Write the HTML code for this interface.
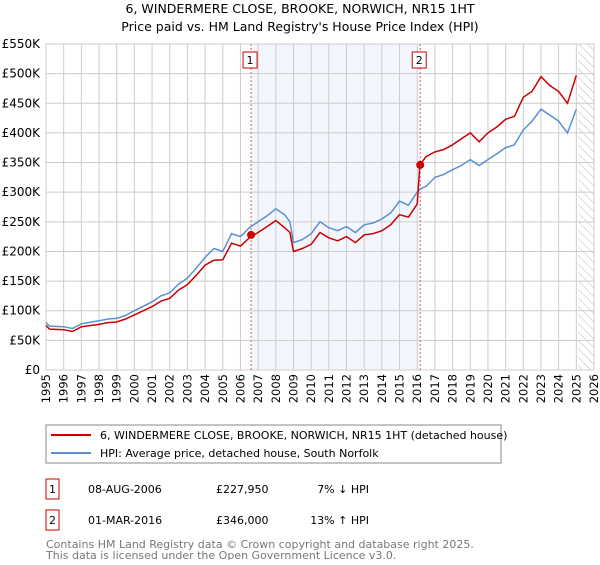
<!DOCTYPE html>
<html><head><meta charset="utf-8"><style>
body{margin:0;background:#fff;font-family:"Liberation Sans","DejaVu Sans",sans-serif}
svg text{font-family:"DejaVu Sans","Liberation Sans",sans-serif}
</style></head><body>
<svg id="c" width="600" height="560" xmlns="http://www.w3.org/2000/svg">
<defs><pattern id="hatch" width="6" height="6" patternUnits="userSpaceOnUse" patternTransform="rotate(-45)"><line x1="0" y1="0" x2="0" y2="6" stroke="#bbb" stroke-width="1"/></pattern></defs>
<text x="300" y="13" text-anchor="middle" font-size="12.5">6, WINDERMERE CLOSE, BROOKE, NORWICH, NR15 1HT</text>
<text x="300" y="31" text-anchor="middle" font-size="12.5">Price paid vs. HM Land Registry's House Price Index (HPI)</text>
<g id="grid"></g><g id="marks"></g><g id="axes"></g>
<rect x="46" y="425" width="455" height="38" fill="none" stroke="#888"/>
<line x1="51" y1="435" x2="91" y2="435" stroke="#cc0000" stroke-width="2"/>
<text x="100" y="439" font-size="11">6, WINDERMERE CLOSE, BROOKE, NORWICH, NR15 1HT (detached house)</text>
<line x1="51" y1="453" x2="91" y2="453" stroke="#5b8fd0" stroke-width="2"/>
<text x="100" y="457" font-size="11">HPI: Average price, detached house, South Norfolk</text>
<g font-size="11">
<rect x="46" y="479" width="13" height="20" fill="none" stroke="#cc0000"/>
<text x="52.5" y="493" text-anchor="middle">1</text>
<text x="88" y="493">08-AUG-2006</text><text x="216" y="493">£227,950</text><text x="369" y="493" text-anchor="end">7% ↓ HPI</text>
<rect x="46" y="510" width="13" height="20" fill="none" stroke="#cc0000"/>
<text x="52.5" y="524" text-anchor="middle">2</text>
<text x="88" y="524">01-MAR-2016</text><text x="216" y="524">£346,000</text><text x="369" y="524" text-anchor="end">13% ↑ HPI</text>
</g>
<text x="46" y="548" font-size="11" fill="#777">Contains HM Land Registry data © Crown copyright and database right 2025.</text>
<text x="46" y="559" font-size="11" fill="#777">This data is licensed under the Open Government Licence v3.0.</text>
</svg>
<script>
const years=[1995,1995.2,1996,1996.5,1997,1998,1998.5,1999,1999.5,2000,2001,2001.5,2002,2002.5,2003,2003.5,2004,2004.5,2005,2005.5,2006,2006.5,2007,2007.5,2008,2008.5,2008.8,2009,2009.5,2010,2010.5,2011,2011.5,2012,2012.5,2013,2013.5,2014,2014.5,2015,2015.5,2016,2016.15,2016.5,2017,2017.5,2018,2018.5,2019,2019.5,2020,2020.5,2021,2021.5,2022,2022.5,2023,2023.5,2024,2024.5,2025];
const hpi=[80,74,73,70,78,83,86,87,92,100,115,125,130,145,155,172,190,205,200,230,225,240,250,260,272,262,250,215,220,230,250,240,235,242,232,245,248,255,265,285,278,300,305,310,325,330,338,345,355,345,355,365,375,380,405,420,440,430,420,400,440];
const prop=[75,69,68,65,73,77,80,81,86,93,107,116,121,135,144,160,177,185,186,214,209,223,232,242,252,240,232,200,205,212,232,223,218,225,215,228,230,235,245,262,258,280,346,360,368,372,380,390,400,385,400,410,423,428,460,470,495,480,470,450,497];
const sales=[[2006.6,227.95,"1"],[2016.17,346,"2"]];
const yTicks=[0,50,100,150,200,250,300,350,400,450,500,550];
const xTicks=[1995,1996,1997,1998,1999,2000,2001,2002,2003,2004,2005,2006,2007,2008,2009,2010,2011,2012,2013,2014,2015,2016,2017,2018,2019,2020,2021,2022,2023,2024,2025,2026];
const L=46,R=594,T=44,B=370,NS="http://www.w3.org/2000/svg";
const X=v=>L+(v-1995)/31*(R-L), Y=v=>B-v/550*(B-T);
function mk(p,t,a){const e=document.createElementNS(NS,t);for(const k in a)e.setAttribute(k,a[k]);document.getElementById(p).appendChild(e);return e;}
let e=mk('grid','rect',{x:X(sales[0][0]),y:T,width:X(sales[1][0])-X(sales[0][0]),height:B-T,fill:'#eef3fc',opacity:0.7});


e=mk('grid','rect',{x:X(2025.1),y:T,width:R-X(2025.1),height:B-T,fill:'url(#hatch)'});


for(const t of xTicks){e=mk('grid','line',{x1:X(t),x2:X(t),y1:T,y2:B,stroke:'#ccc'});


e=mk('axes','text',{x:0,y:0,'font-size':11.5,'text-anchor':'end',transform:`translate(${X(t)+4},${B+4}) rotate(-90)`});e.textContent=t;

}
for(const t of yTicks){e=mk('grid','line',{x1:L,x2:R,y1:Y(t),y2:Y(t),stroke:'#ccc'});


e=mk('axes','text',{x:40,y:Y(t)+4,'font-size':12,'text-anchor':'end'});e.textContent=t===0?'£0':'£'+t+'K';

}
for(const s of sales){e=mk('marks','line',{x1:X(s[0]),x2:X(s[0]),y1:T,y2:B,stroke:'#e06060','stroke-dasharray':'2,2'});


e=mk('axes','rect',{x:X(s[0])-8,y:52,width:14,height:16,fill:'#fff',stroke:'#cc0000'});


e=mk('axes','text',{x:X(s[0])-1,y:64,'font-size':11,'text-anchor':'middle'});e.textContent=s[2];

}
const pts=a=>years.map((y,i)=>X(y).toFixed(1)+','+Y(a[i]).toFixed(1)).join(' ');
e=mk('marks','polyline',{points:pts(hpi),fill:'none',stroke:'#5b8fd0','stroke-width':1.5});


e=mk('marks','polyline',{points:pts(prop),fill:'none',stroke:'#cc0000','stroke-width':1.5});


for(const s of sales){e=mk('marks','circle',{cx:X(s[0]),cy:Y(s[1]),r:4,fill:'#cc0000'});

}
</script>
</body></html>
